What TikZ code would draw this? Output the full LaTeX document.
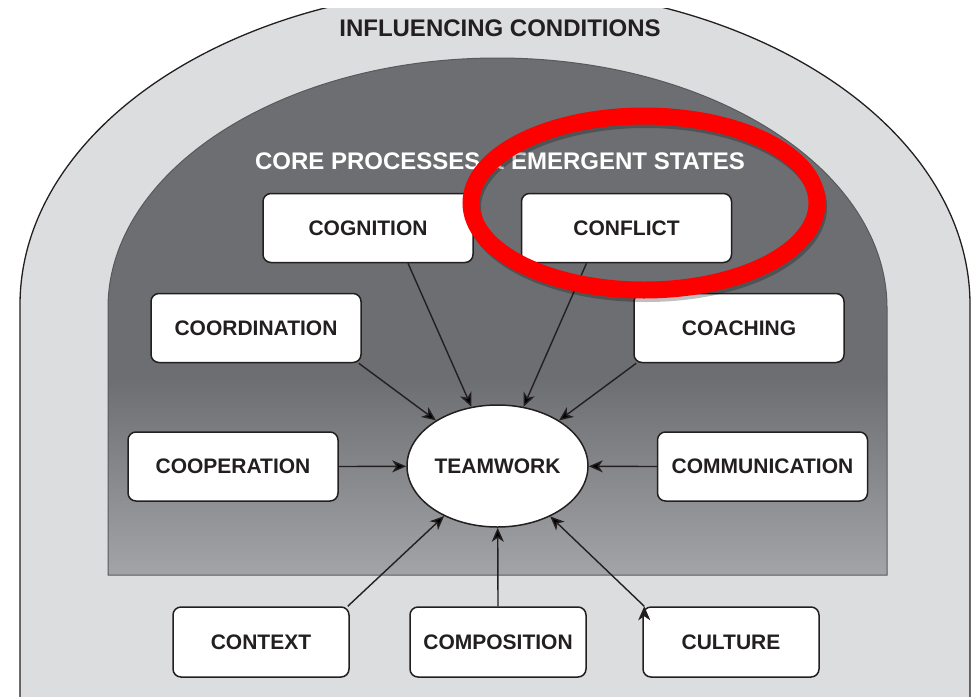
\documentclass[tikz,border=0pt]{standalone}
\usepackage{fontspec}
\setmainfont{Liberation Sans}
\usetikzlibrary{arrows.meta, shapes.geometric, positioning}

\definecolor{outerfill}{HTML}{DCDDDF}
\definecolor{coredark}{HTML}{6D6E71}
\definecolor{corelight}{HTML}{A2A4A7}
\definecolor{coreline}{HTML}{58595B}
\definecolor{inkdark}{HTML}{231F20}
\definecolor{ringred}{HTML}{FF0000}
\pgfdeclareverticalshading{coreshade}{100bp}{color(0bp)=(corelight); color(25bp)=(corelight); color(44bp)=(coredark); color(100bp)=(coredark)}

\begin{document}
\begin{tikzpicture}[x=1pt, y=1pt,
    box/.style={draw=inkdark, line width=1.5pt, fill=white, rounded corners=8pt,
        minimum width=210pt, minimum height=69pt, text=inkdark,
        font=\fontsize{21}{25}\selectfont\bfseries},
    smallbox/.style={box, minimum width=176pt, minimum height=70pt},
    hub/.style={ellipse, draw=inkdark, line width=1.5pt, fill=white, inner sep=0pt,
        minimum width=181pt, minimum height=122pt, text=inkdark,
        font=\fontsize{21}{25}\selectfont\bfseries},
    heading/.style={font=\fontsize{24}{28}\selectfont\bfseries},
    arr/.style={draw=inkdark, line width=1.4pt, -{Stealth[length=14pt, width=12pt, inset=4pt]}}]
    \useasboundingbox (0,0) rectangle (973,-696);
    \fill[white] (0,0) rectangle (973,-696);

    % influencing conditions
    \begin{scope}
        \clip (0,-8) rectangle (973,-697);
        \draw[fill=outerfill, draw=inkdark, line width=1.3pt]
        (20,-700) -- (20,-305)
        arc[start angle=180, end angle=0, x radius=475pt, y radius=318pt]
        -- (970,-700);
    \end{scope}

    % core processes
    \shadedraw[shading=coreshade, draw=coreline, line width=1pt]
    (108,-575) -- (108,-308)
    arc[start angle=180, end angle=0, x radius=389.5pt, y radius=250pt]
    -- (887,-575) -- cycle;

    \node[heading, text=inkdark] (infl) at (500,-28) {INFLUENCING CONDITIONS};
    \node[heading, text=white] (core) at (500,-161) {CORE PROCESSES \& EMERGENT STATES};

    \node[box] (cog) at (368,-228) {COGNITION};
    \node[box] (con) at (626.5,-228) {CONFLICT};
    \node[box] (coord) at (256,-328) {COORDINATION};
    \node[box] (coach) at (739,-328) {COACHING};
    \node[box] (coop) at (233,-466.5) {COOPERATION};
    \node[box] (comm) at (762.5,-466.5) {COMMUNICATION};
    \node[hub] (team) at (497.5,-466) {TEAMWORK};
    \node[smallbox] (ctx) at (261,-642) {CONTEXT};
    \node[smallbox] (comp) at (498,-642) {COMPOSITION};
    \node[smallbox] (cul) at (731,-642) {CULTURE};

    \draw[arr]
    ([xshift=40pt]cog.south) edge (team)
    ([xshift=-40pt]con.south) edge (team)
    ([xshift=-3pt]coord.south east) edge (team)
    ([xshift=3pt]coach.south west) edge (team)
    (coop.east) edge (team)
    (comm.west) edge (team)
    ([xshift=-2pt]ctx.north east) edge (team)
    (comp.north) edge (team)
    ([xshift=2pt]cul.north west) edge (team);

    % red ring
    \draw[black, opacity=0.25, line width=16pt] (646,-207) ellipse[x radius=173pt, y radius=87pt];
    \draw[ringred, line width=17pt] (644,-203) ellipse[x radius=173pt, y radius=87pt];
\end{tikzpicture}
\end{document}
